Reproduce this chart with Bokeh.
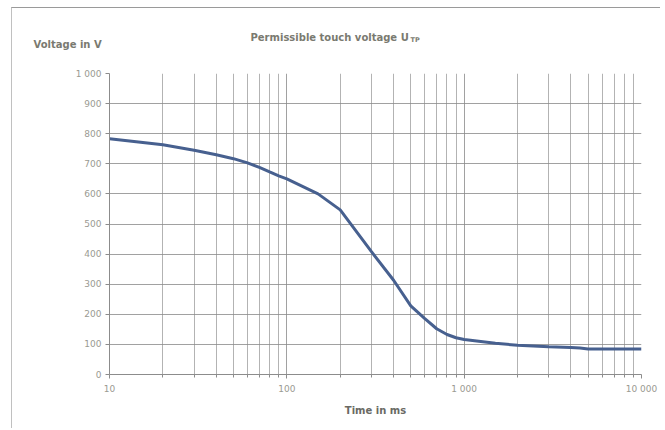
from bokeh.plotting import figure
from bokeh.models import FixedTicker, Title, Range1d
from bokeh.embed import file_html
from bokeh.resources import INLINE

# Data (time in ms, permissible touch voltage in V)
time_ms = [10, 20, 30, 40, 50, 60, 70, 80, 90, 100, 150, 200, 300, 400, 500,
           600, 700, 800, 900, 1000, 1500, 2000, 3000, 4000, 4500, 5000, 10000]
voltage = [783, 763, 745, 730, 717, 703, 688, 673, 660, 650, 600, 547, 408, 313,
           228, 186, 152, 133, 122, 116, 104, 97, 92, 90, 88, 85, 85]

x_major = [10, 100, 1000, 10000]
x_major_labels = ["10", "100", "1 000", "10 000"]
x_minor = [m * d for d in (10, 100, 1000) for m in range(2, 10)]
y_ticks = list(range(0, 1001, 100))
y_tick_labels = ["0", "100", "200", "300", "400", "500", "600", "700", "800", "900", "1 000"]

p = figure(width=649, height=421, x_axis_type="log",
           x_range=Range1d(10, 10000), y_range=Range1d(0, 1000),
           output_backend="svg", toolbar_location=None,
           min_border_left=97, min_border_right=20,
           min_border_top=65, min_border_bottom=55,
           styles={"border-left": "1px solid #c0c0c0", "border-top": "1px solid #9a9a9a",
                   "margin-left": "11px", "margin-top": "7px"})

p.outline_line_color = None
p.background_fill_color = "white"
p.border_fill_color = "white"

p.xaxis.ticker = FixedTicker(ticks=x_major, minor_ticks=x_minor)
p.xaxis.major_label_overrides = {t: l for t, l in zip(x_major, x_major_labels)}
p.yaxis.ticker = FixedTicker(ticks=y_ticks)
p.yaxis.major_label_overrides = {t: l for t, l in zip(y_ticks, y_tick_labels)}

for ax in (p.xaxis, p.yaxis):
    ax.axis_line_color = "#8c8c8c"
    ax.major_tick_line_color = "#8c8c8c"
    ax.minor_tick_line_color = "#8c8c8c"
    ax.major_tick_in = 0
    ax.major_tick_out = 4
    ax.minor_tick_in = 0
    ax.minor_tick_out = 3
    ax.major_label_text_font = "DejaVu Sans"
    ax.major_label_text_font_size = "9px"
    ax.major_label_text_color = "#9a9a92"
p.yaxis.minor_tick_line_color = None
p.xaxis.major_label_standoff = 5
p.yaxis.major_label_standoff = 4

p.xaxis.axis_label = "Time in ms"
p.xaxis.axis_label_text_font = "DejaVu Sans"
p.xaxis.axis_label_text_font_style = "bold"
p.xaxis.axis_label_text_font_size = "10px"
p.xaxis.axis_label_text_color = "#6a6a64"
p.xaxis.axis_label_standoff = 8

p.xgrid.grid_line_color = "#8a8a8a"
p.xgrid.grid_line_alpha = 0.8
p.xgrid.minor_grid_line_color = "#939393"
p.xgrid.minor_grid_line_alpha = 0.7
p.ygrid.grid_line_color = "#8a8a8a"
p.ygrid.grid_line_alpha = 0.8

p.line(time_ms, voltage, line_color="#47608f", line_width=3)

font = "DejaVu Sans"
t_v = Title(text="Voltage in V", align="left", offset=-76, standoff=48,
            text_font=font, text_font_style="bold", text_font_size="10px",
            text_color="#7a7a70")
t_main = Title(text="Permissible touch voltage U", align="left", offset=141, standoff=-61,
               text_font=font, text_font_style="bold", text_font_size="10px",
               text_color="#7a7a70")
t_tp = Title(text="TP", align="left", offset=301, standoff=-63,
             text_font=font, text_font_style="bold", text_font_size="6.5px",
             text_color="#7a7a70")
p.add_layout(t_v, "above")
p.add_layout(t_main, "above")
p.add_layout(t_tp, "above")

open("out.html", "w").write(file_html(p, INLINE))
